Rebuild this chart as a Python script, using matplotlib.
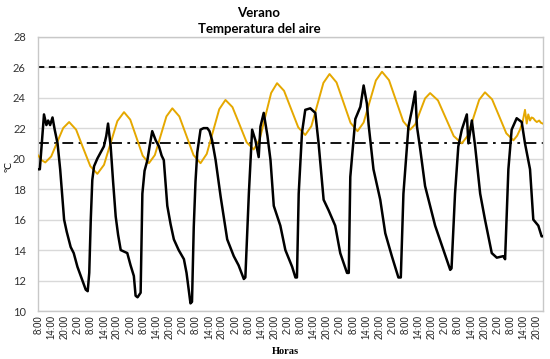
import matplotlib
matplotlib.use("Agg")
import matplotlib.pyplot as plt

# ---- data (hours since first 8:00, temperature ºC) ----
air_hours = [0.0, 0.7, 2.6, 3.7, 4.5, 5.4, 6.5, 7.5, 8.8, 10.0, 11.8, 13.0, 14.8, 16.2, 17.9,
             19.4, 21.7, 22.6, 23.3, 24.0, 24.7, 25.5, 27.0, 28.5, 30.0, 31.1, 31.9, 33.1,
             34.2, 35.4, 36.5, 37.7, 40.7, 42.2, 43.7, 44.5, 45.4, 46.8, 47.6, 48.6, 49.9,
             50.9, 52.1, 53.7, 55.2, 56.4, 57.4, 59.0, 60.5, 62.0, 64.2, 66.6, 67.8, 68.7,
             69.6, 70.3, 71.1, 71.9, 72.7, 74.2, 75.6, 77.3, 78.3, 79.5, 81.1, 83.4, 86.4,
             89.4, 91.6, 94.0, 94.7, 96.3, 97.8, 99.3, 100.8, 101.6, 103.1, 104.8, 106.2,
             107.7, 110.7, 113.0, 116.1, 117.6, 118.3, 119.1, 120.6, 122.1, 124.4, 126.7,
             128.2, 130.5, 132.8, 135.8, 138.1, 141.2, 142.0, 142.7, 145.0, 147.3, 148.8,
             150.3, 151.1, 153.3, 156.4, 158.7, 161.7, 164.7, 165.8, 167.0, 169.3, 170.9,
             172.4, 173.2, 174.7, 176.9, 179.2, 181.5, 185.3, 188.4, 189.0, 190.6, 192.1,
             193.7, 196.0, 196.7, 198.3, 199.8, 202.1, 204.3, 207.4, 209.7, 212.7, 213.5,
             215.0, 216.5, 218.8, 221.1, 222.6, 224.9, 226.4, 228.7, 230.2, 230.7]
air_temp = [19.3, 19.3, 22.9, 22.2, 22.5, 22.2, 22.7, 21.9, 21.0, 19.3, 16.0, 15.2, 14.2, 13.8, 12.9,
            12.3, 11.4, 11.3, 12.5, 16.0, 18.6, 19.5, 20.0, 20.4, 20.8, 21.5, 22.3, 20.8,
            18.5, 16.2, 15.0, 14.0, 13.8, 13.0, 12.3, 11.0, 10.9, 11.2, 17.7, 19.2, 19.9,
            20.8, 21.8, 21.2, 20.8, 20.2, 19.9, 16.9, 15.7, 14.7, 14.0, 13.4, 12.5, 11.5,
            10.5, 10.6, 15.5, 18.5, 20.4, 21.9, 22.0, 22.0, 21.8, 21.2, 19.9, 17.5, 14.7,
            13.6, 13.0, 12.1, 12.2, 17.7, 21.9, 21.2, 20.1, 22.1, 23.0, 21.5, 19.9,
            16.9, 15.6, 14.0, 12.9, 12.2, 12.2, 17.7, 21.7, 23.2, 23.3, 23.0,
            21.0, 17.3, 16.6, 15.6, 13.8, 12.5, 12.5, 18.8, 22.6, 23.4, 24.8,
            23.6, 22.2, 19.3, 17.3, 15.1, 13.6, 12.2, 12.2, 17.7, 22.1, 23.2,
            24.4, 22.1, 20.6, 18.2, 16.9, 15.6, 14.0, 12.7, 12.8, 17.7, 20.8,
            21.9, 22.9, 21.0, 22.5, 20.8, 17.7, 16.0, 13.8, 13.5, 13.6, 13.4,
            19.3, 21.9, 22.65, 22.4, 21.0, 19.3, 16.0, 15.6, 14.9, 14.9]

room_hours = [0.0, 1.5, 3.2, 5.9, 8.65, 11.4, 14.1, 17.3, 20.5, 23.8, 27.0, 30.05, 33.1, 36.15,
              39.2, 42.05, 44.9, 47.75, 50.6, 53.3, 55.95, 58.6, 61.3, 64.5, 67.75, 71.0, 74.2,
              77.05, 79.9, 82.75, 85.6, 88.8, 92.05, 95.3, 98.5, 101.2, 103.85, 106.5, 109.2,
              112.4, 115.65, 118.9, 122.1, 124.9, 127.65, 130.4, 133.2, 136.4, 139.6, 142.8,
              146.0, 148.8, 151.6, 154.4, 157.2, 160.4, 163.65, 166.9, 170.1, 172.4, 174.65,
              176.9, 179.2, 182.8, 186.4, 190.0, 193.7, 196.35, 199.0, 201.65, 204.3, 207.55,
              210.8, 214.05, 217.3, 219.0, 220.3, 221.5, 222.6, 223.4, 224.1, 224.9, 225.6,
              226.4, 227.2, 228.0, 229.1, 229.9, 230.7]
room_temp = [20.2, 19.9, 19.75, 20.14, 21.08, 22.01, 22.4, 21.9, 20.7, 19.5, 19.0, 19.59, 21.03, 22.46,
             23.05, 22.56, 21.38, 20.19, 19.7, 20.23, 21.5, 22.77, 23.3, 22.77, 21.5, 20.23, 19.7,
             20.31, 21.78, 23.24, 23.85, 23.38, 22.23, 21.07, 20.6, 21.24, 22.78, 24.31, 24.95,
             24.45, 23.25, 22.05, 21.55, 22.13, 23.55, 24.97, 25.55, 25.0, 23.68, 22.35,
             21.8, 22.37, 23.75, 25.13, 25.7, 25.15, 23.8, 22.45, 21.9, 22.25, 23.1,
             23.95, 24.3, 23.82, 22.65, 21.48, 21.0, 21.49, 22.68, 23.86, 24.35, 23.89,
             22.78, 21.66, 21.2, 21.5, 21.9, 22.4, 23.2, 22.3, 22.9, 22.5, 22.7,
             22.65, 22.5, 22.4, 22.5, 22.35, 22.3]

upper_limit = 26
lower_limit = 21

tick_hours = list(range(0, 229, 6))
tick_labels = ["8:00", "14:00", "20:00", "2:00"] * 9 + ["8:00", "14:00", "20:00"]

title_lines = ["Verano", "Temperatura del aire"]
x_label = "Horas"
y_label = "ºC"

# ---- figure ----
fig = plt.figure(figsize=(5.5, 3.59), dpi=100)
ax = fig.add_axes([38.3 / 550, 1 - 311 / 359, (542.7 - 38.3) / 550, (311 - 36.7) / 359])

ax.plot(room_hours, room_temp, color="#E5A800", lw=1.4, zorder=3, solid_joinstyle="round")
ax.plot(air_hours, air_temp, color="black", lw=1.8, zorder=4, solid_joinstyle="round")
ax.axhline(upper_limit, color="black", lw=1.3, ls=(0, (3.5, 2.5)), zorder=2)
ax.axhline(lower_limit, color="black", lw=1.3, ls=(0, (6, 3, 1.5, 3)), zorder=2)

ax.set_xlim(0, 230.7)
ax.set_ylim(10, 28)
ax.set_yticks(range(10, 29, 2))
ax.yaxis.grid(True, color="#d9d9d9", lw=1)
ax.set_axisbelow(True)
ax.set_xticks(tick_hours)
ax.set_xticklabels(tick_labels, rotation=90, fontsize=7, family="Liberation Sans", color="#222222")
for lab in ax.get_yticklabels():
    lab.set_fontsize(8)
    lab.set_family("Lato")
    lab.set_color("#333333")
ax.tick_params(axis="x", length=0, pad=3)
ax.tick_params(axis="y", length=0, pad=9)
for s in ax.spines.values():
    s.set_color("#c8c8c8")
    s.set_linewidth(1)

fig.text(259 / 550, 1 - 13 / 359, title_lines[0], ha="center", va="center",
         fontsize=9.5, fontweight="bold", family="Lato")
fig.text(259 / 550, 1 - 29 / 359, title_lines[1], ha="center", va="center",
         fontsize=9.5, fontweight="bold", family="Lato")
fig.text(285 / 550, 1 - 352 / 359, x_label, ha="center", va="center",
         fontsize=7.5, fontweight="bold", family="Liberation Serif")
fig.text(8.5 / 550, 1 - 166 / 359, y_label, ha="center", va="center", rotation=90,
         fontsize=7.5, family="Lato")

fig.savefig("out.png", dpi=100)
